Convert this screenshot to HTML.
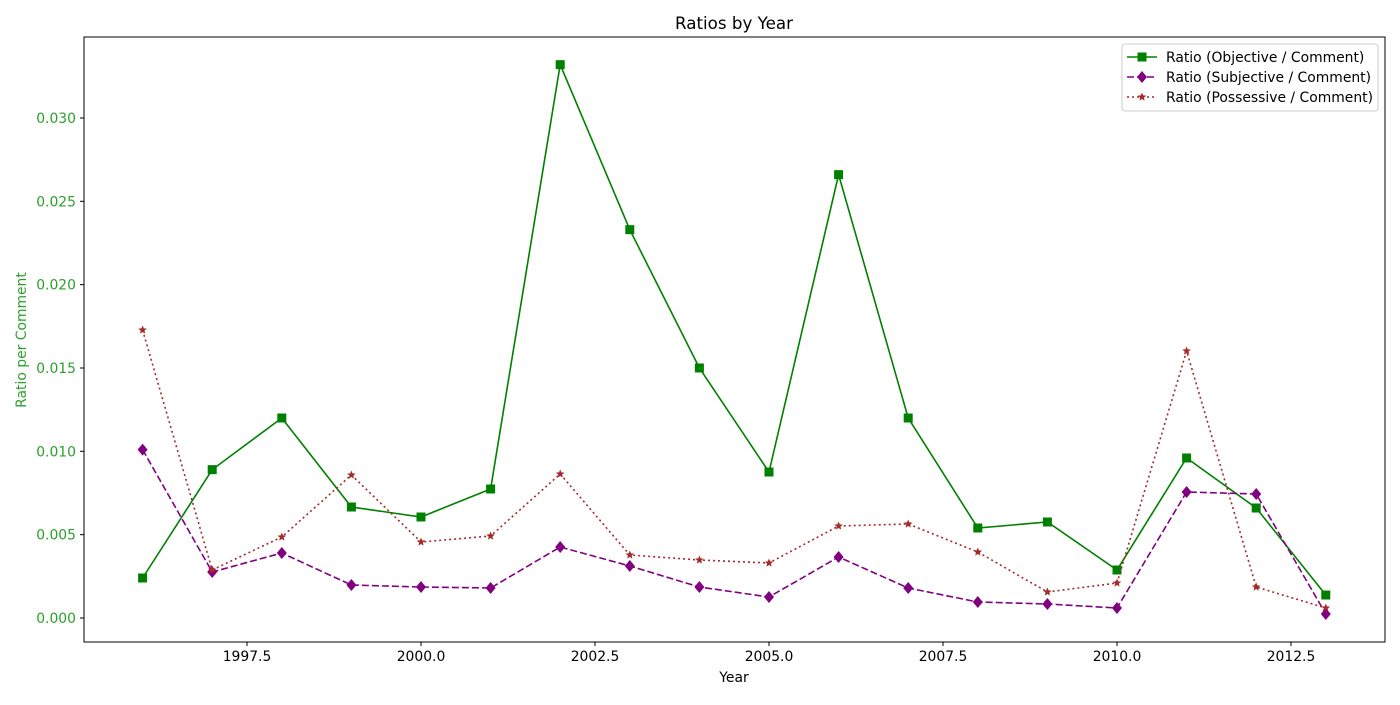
<!DOCTYPE html>
<html><head><meta charset="utf-8"><style>
body{margin:0;background:#fff;font-family:"Liberation Sans","DejaVu Sans",sans-serif}
svg text{font-family:"DejaVu Sans","Liberation Sans",sans-serif}
</style></head><body>
<svg id="chart" width="1400" height="700" xmlns="http://www.w3.org/2000/svg"></svg>
<script>
const years=[1996,1997,1998,1999,2000,2001,2002,2003,2004,2005,2006,2007,2008,2009,2010,2011,2012,2013];
const objective=[0.0024,0.0089,0.0120,0.00666,0.00606,0.00774,0.0332,0.0233,0.0150,0.00876,0.0266,0.0120,0.0054,0.00576,0.00288,0.0096,0.0066,0.00138];
const subjective=[0.0101,0.00276,0.0039,0.00198,0.00186,0.0018,0.00426,0.00312,0.00186,0.00126,0.00366,0.0018,0.00096,0.00084,0.0006,0.00756,0.00744,0.00024];
const possessive=[0.01728,0.00288,0.00486,0.00858,0.00456,0.00492,0.00864,0.00378,0.00348,0.0033,0.00552,0.00564,0.00396,0.00156,0.0021,0.01602,0.00186,0.0006];
const xTicks=[1997.5,2000,2002.5,2005,2007.5,2010,2012.5];
const yTicks=[0,0.005,0.01,0.015,0.02,0.025,0.03];
const NS="http://www.w3.org/2000/svg";
const svg=document.getElementById('chart');
const L=84,R=1385,T=37,B=642;
const xs=v=>142.6+(v-1996)*69.6;
const ys=v=>618-v*16667;
function mk(tag,attrs,parent){const e=document.createElementNS(NS,tag);for(const k in attrs)e.setAttribute(k,attrs[k]);(parent||svg).appendChild(e);return e;}
const frame=mk('rect',{x:L,y:T,width:R-L,height:B-T,fill:'none',stroke:'#000','stroke-width':1});


xTicks.forEach(t=>{const x=xs(t);
 const l=mk('line',{x1:x,x2:x,y1:B,y2:B+4,stroke:'#000'});
 
 
 const tx=mk('text',{x:x,y:B+19,'text-anchor':'middle','font-size':13.9,fill:'#000'});tx.textContent=t.toFixed(1);
 
 });
yTicks.forEach(t=>{const y=ys(t);
 const l=mk('line',{x1:L-4,x2:L,y1:y,y2:y,stroke:'#000'});
 
 
 const tx=mk('text',{x:L-8,y:y+5,'text-anchor':'end','font-size':13.9,fill:'#2ca02c'});tx.textContent=t.toFixed(3);
 
 });
const ti=mk('text',{x:734,y:29,'text-anchor':'middle','font-size':16.7,fill:'#000'});ti.textContent='Ratios by Year';


const xl=mk('text',{x:734,y:682,'text-anchor':'middle','font-size':13.9,fill:'#000'});xl.textContent='Year';


const yl=mk('text',{x:0,y:0,'text-anchor':'middle','font-size':13.9,fill:'#2ca02c',transform:'translate(26,340) rotate(-90)'});yl.textContent='Ratio per Comment';


function marker(type,x,y,c,g){
 if(type==='s')return mk('rect',{x:x-4.5,y:y-4.5,width:9,height:9,fill:c},g);
 if(type==='d')return mk('polygon',{points:`${x},${y-6} ${x+5},${y} ${x},${y+6} ${x-5},${y}`,fill:c},g);
 let p=[];for(let i=0;i<10;i++){const r=i%2?2:4.5,a=-Math.PI/2+i*Math.PI/5;p.push((x+r*Math.cos(a)).toFixed(1)+','+(y+r*Math.sin(a)).toFixed(1));}
 return mk('polygon',{points:p.join(' '),fill:c},g);
}
const series=[[objective,'#008000','','s','objective-series'],[subjective,'#800080','7,3','d','subjective-series'],[possessive,'#a52a2a','2,3','*','possessive-series']];
series.forEach(([d,c,dash,m,name])=>{
 const g=mk('g',{});
 
 
 const pl=mk('polyline',{points:d.map((v,i)=>xs(years[i])+','+ys(v)).join(' '),fill:'none',stroke:c,'stroke-width':1.6,'stroke-dasharray':dash},g);
 
 
 d.forEach((v,i)=>{const mm=marker(m,xs(years[i]),ys(v),c,g);
  
  });
});
const lg=mk('g',{});


mk('rect',{x:1122,y:44,width:256,height:67,rx:3,fill:'#fff',stroke:'#ccc'},lg);
const labels=['Ratio (Objective / Comment)','Ratio (Subjective / Comment)','Ratio (Possessive / Comment)'];
series.forEach(([d,c,dash,m],i)=>{const y=57+i*20;
 const e=mk('g',{},lg);
 
 
 mk('line',{x1:1127,x2:1157,y1:y,y2:y,stroke:c,'stroke-width':1.6,'stroke-dasharray':dash},e);
 marker(m,1142,y,c,e);
 const t=mk('text',{x:1166,y:y+5,'font-size':13.9,fill:'#000'},e);t.textContent=labels[i];});
</script>
</body></html>
